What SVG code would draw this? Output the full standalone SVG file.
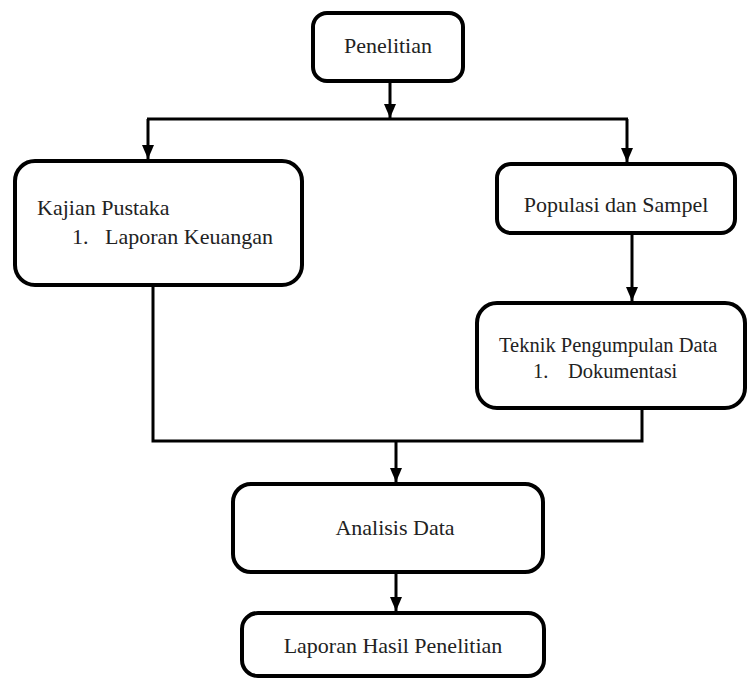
<svg xmlns="http://www.w3.org/2000/svg" width="748" height="680" viewBox="0 0 748 680">
<style>
.box{fill:#fff;stroke:#000;stroke-width:4}
.c{fill:none;stroke:#000;stroke-width:3}
</style>
<defs>
<marker id="ah" markerUnits="userSpaceOnUse" markerWidth="14" markerHeight="14" viewBox="0 0 14 14" refX="14" refY="7" orient="auto">
<path d="M0,1 L14,7 L0,13 Z" fill="#000"/>
</marker>
</defs>
<rect width="748" height="680" fill="#fff"/>
<g id="connectors">
<line class="c" x1="390" y1="82" x2="390" y2="118" marker-end="url(#ah)"/>
<line class="c" x1="147" y1="119" x2="628" y2="119"/>
<line class="c" x1="148" y1="119" x2="148" y2="159" marker-end="url(#ah)"/>
<line class="c" x1="627" y1="119" x2="627" y2="162" marker-end="url(#ah)"/>
<line class="c" x1="632" y1="234" x2="632" y2="301" marker-end="url(#ah)"/>
<path class="c" d="M153 285 V441 H642 V408"/>
<line class="c" x1="396" y1="441" x2="396" y2="482" marker-end="url(#ah)"/>
<line class="c" x1="396" y1="573" x2="396" y2="611" marker-end="url(#ah)"/>
</g>
<g font-family="Liberation Serif, Times New Roman, serif" font-size="22" fill="#222">
<g id="penelitian">
<rect class="box" x="313" y="13" width="150" height="68" rx="14"/>
<text x="388" y="53" text-anchor="middle">Penelitian</text>
</g>
<g id="kajian">
<rect class="box" x="15" y="161" width="287" height="124" rx="20"/>
<text x="37" y="215">Kajian Pustaka</text>
<text x="72" y="244">1.</text>
<text x="105" y="244">Laporan Keuangan</text>
</g>
<g id="populasi">
<rect class="box" x="497" y="164" width="238" height="69" rx="14"/>
<text x="616" y="212" text-anchor="middle">Populasi dan Sampel</text>
</g>
<g id="teknik" font-size="20.5">
<rect class="box" x="477" y="303" width="268" height="105" rx="20"/>
<text x="499" y="352">Teknik Pengumpulan Data</text>
<text x="533" y="378">1.</text>
<text x="568" y="378">Dokumentasi</text>
</g>
<g id="analisis">
<rect class="box" x="233" y="484" width="310" height="88" rx="18"/>
<text x="395" y="535" text-anchor="middle">Analisis Data</text>
</g>
<g id="laporan">
<rect class="box" x="242" y="613" width="302" height="63" rx="16"/>
<text x="393" y="653" text-anchor="middle">Laporan Hasil Penelitian</text>
</g>
</g>
</svg>
